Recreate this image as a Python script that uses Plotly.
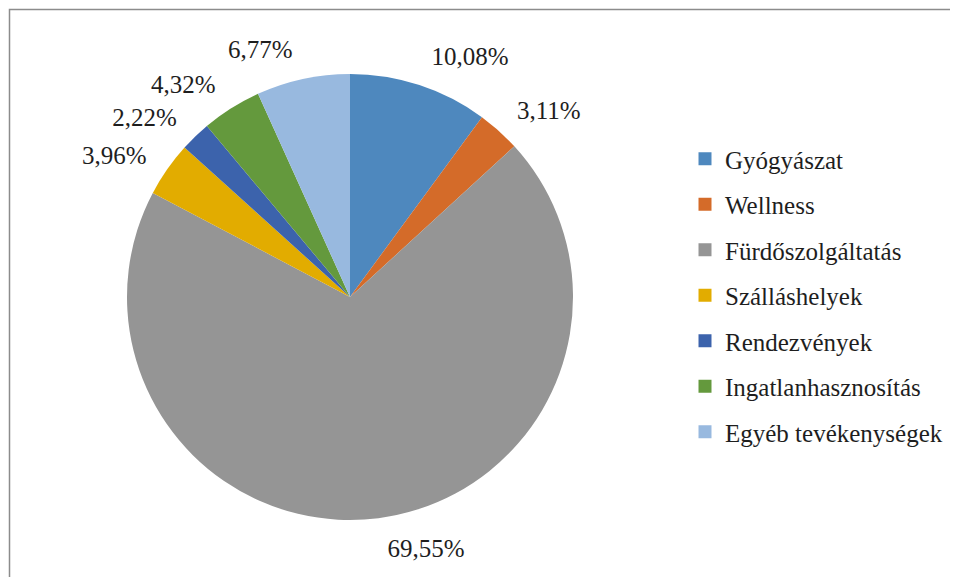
import plotly.graph_objects as go

categories = ["Gyógyászat", "Wellness", "Fürdőszolgáltatás", "Szálláshelyek",
              "Rendezvények", "Ingatlanhasznosítás", "Egyéb tevékenységek"]
shares = [10.08, 3.11, 69.55, 3.96, 2.22, 4.32, 6.77]
colors = ["#4E88BE", "#D46B29", "#959595", "#E2AC00", "#3C63AC", "#64993D", "#98B9DF"]

FONT = "Liberation Serif"
W, H = 958, 577
OFF = 8  # page body margin
cx, cy, r = 350 - OFF, 297 - OFF, 223
r_lab = r + 17  # labels sit a little away from the pie edge


def dom(rad):
    return dict(x=[(cx - rad) / W, (cx + rad) / W], y=[1 - (cy + rad) / H, 1 - (cy - rad) / H])


fig = go.Figure()
# visible pie (no labels)
fig.add_trace(go.Pie(
    labels=categories, values=shares, sort=False, direction="clockwise", rotation=0,
    marker=dict(colors=colors, line=dict(width=0)),
    textinfo="none", showlegend=False, hoverinfo="label+value",
    domain=dom(r),
))
# transparent companion pie carrying the outside percentage labels
fig.add_trace(go.Pie(
    labels=categories, values=shares, sort=False, direction="clockwise", rotation=0,
    marker=dict(colors=["rgba(0,0,0,0)"] * len(shares), line=dict(width=0)),
    texttemplate="%{value:.2f}%", textposition="outside",
    textfont=dict(family=FONT, size=25, color="#1E1E1E"),
    showlegend=False, hoverinfo="skip",
    domain=dom(r_lab),
))

for i, (c, col) in enumerate(zip(categories, colors)):
    fig.add_trace(go.Scatter(
        x=[None], y=[None], mode="markers", name=c,
        marker=dict(symbol="square", size=13, color=col),
        legendgroup=f"g{i}", showlegend=True,
    ))

fig.update_layout(
    width=W, height=H, margin=dict(l=0, r=0, t=0, b=0, autoexpand=False),
    paper_bgcolor="white", plot_bgcolor="white",
    separators=",.",
    font=dict(family=FONT),
    xaxis=dict(visible=False), yaxis=dict(visible=False),
    legend=dict(x=(685 - OFF) / W, y=1 - (136 - OFF) / H, xanchor="left", yanchor="top",
                font=dict(family=FONT, size=25, color="#1E1E1E"),
                tracegroupgap=10, itemwidth=30, bgcolor="rgba(0,0,0,0)"),
    shapes=[dict(type="rect", xref="paper", yref="paper",
                 x0=1.5 / W, x1=1.05, y0=-0.05, y1=1 - 1.5 / H,
                 line=dict(color="#8C8C8C", width=1.5))],
)

fig.write_html("out.html")
